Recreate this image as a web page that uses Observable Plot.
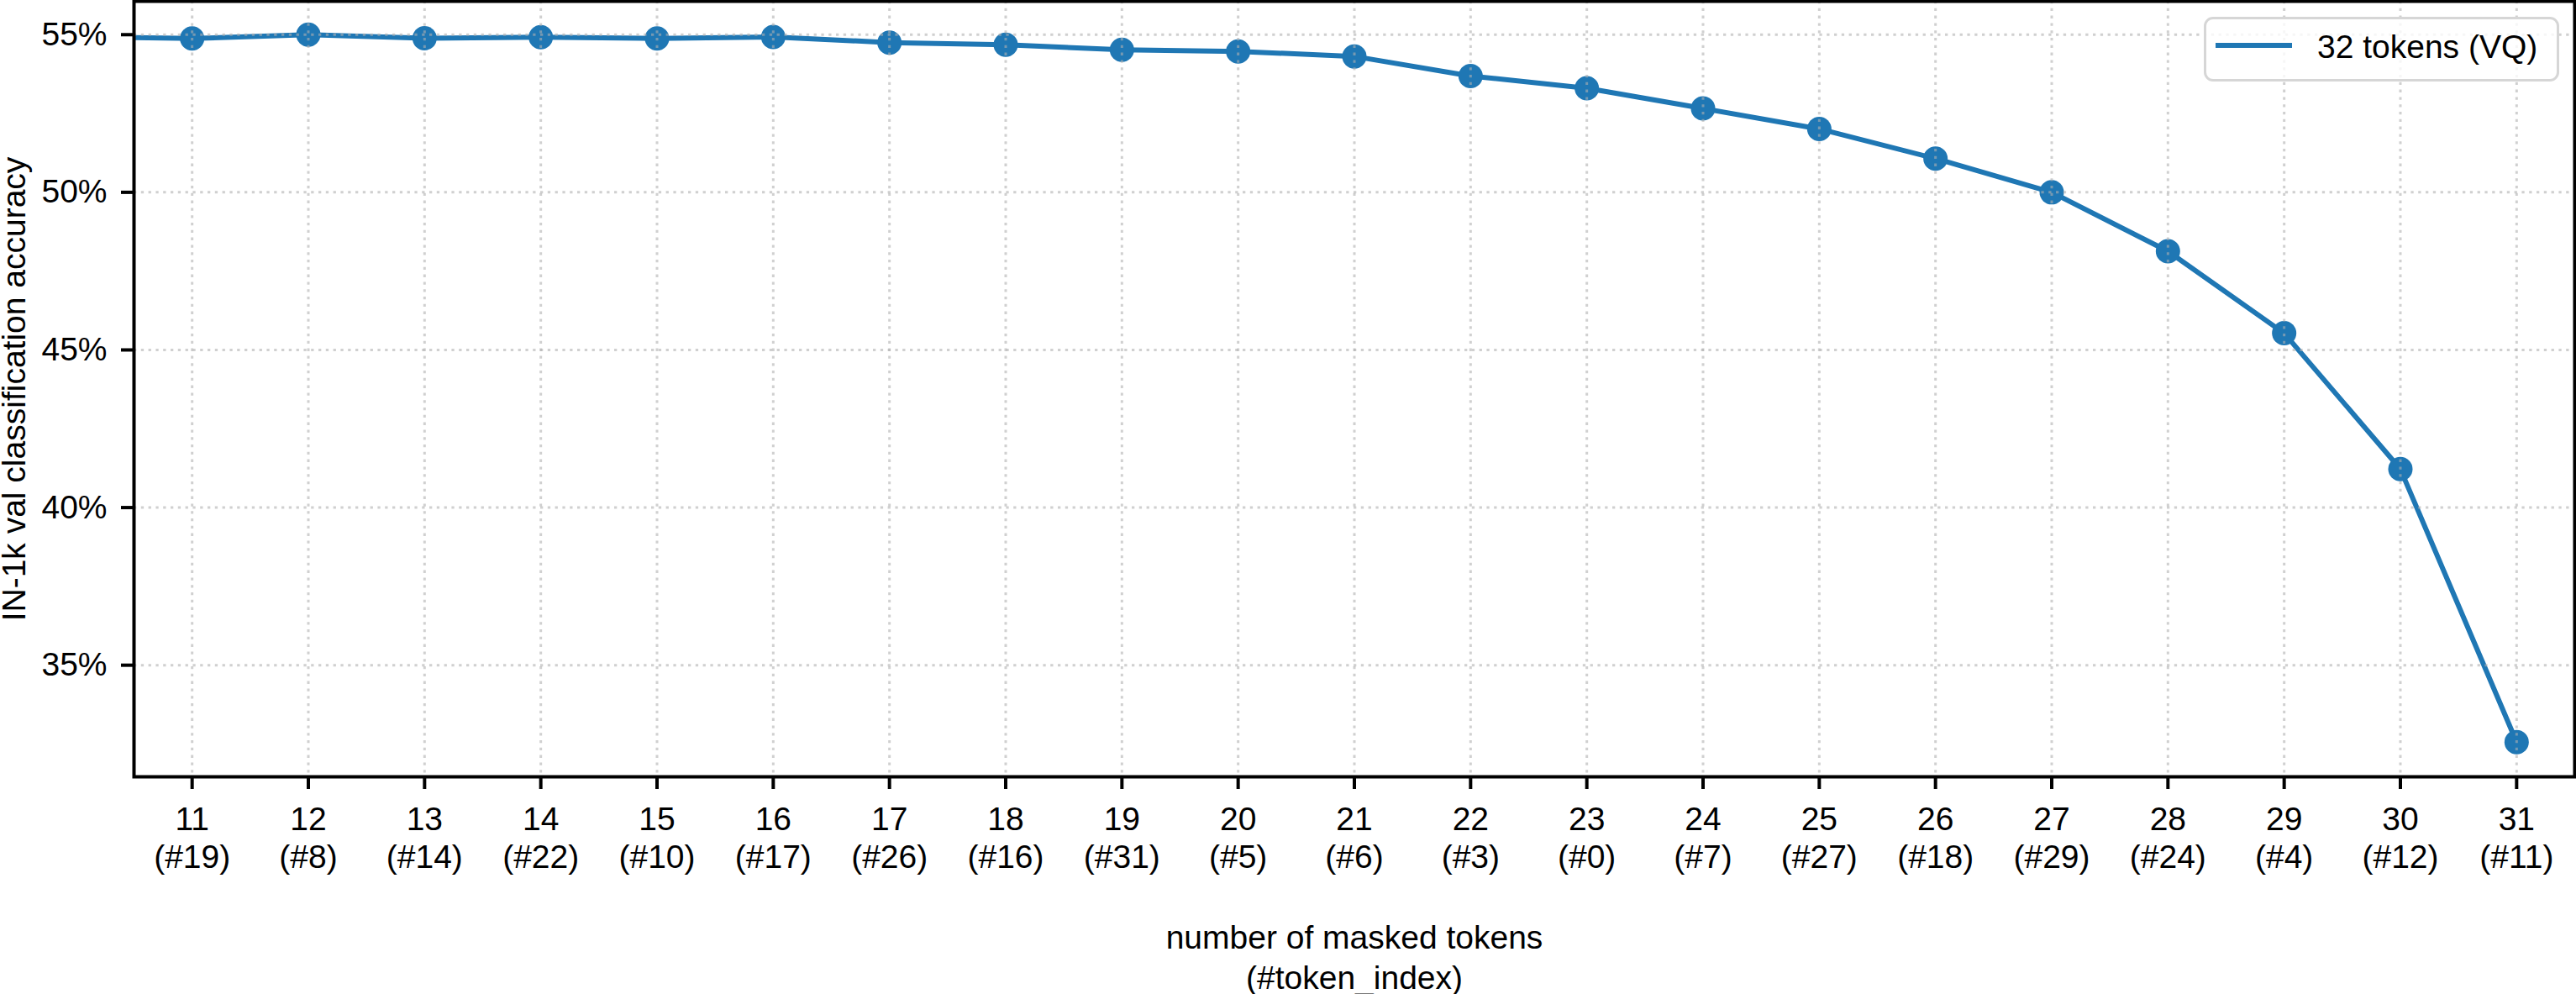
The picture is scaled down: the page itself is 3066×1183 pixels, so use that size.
<!DOCTYPE html>
<html>
<head>
<meta charset="utf-8">
<script src="https://cdn.jsdelivr.net/npm/d3@7"></script>
<script src="https://cdn.jsdelivr.net/npm/@observablehq/plot@0.6"></script>
<style>
  html, body { margin: 0; padding: 0; background: #fff; }
  #wrap { position: relative; width: 3066px; height: 1183px; font-family: 'Liberation Sans', Arial, sans-serif; }
  #chart svg { overflow: visible; }
  #legend { position: absolute; left: 2623px; top: 20px; width: 423px; height: 77px; box-sizing: border-box;
    border: 3px solid #d6d6d6; border-radius: 11px; background: rgba(255,255,255,0.8); }
  #legend .swatch { position: absolute; left: 11px; top: 28px; width: 91px; height: 6px; }
  #legend .lbl { position: absolute; left: 132px; top: 9px; font-size: 39px; line-height: 47px; color: #000; white-space: nowrap; }
</style>
</head>
<body>
<div id="wrap"><div id="chart"></div><div id="legend"></div></div>
<script>
// ---- data ----
const maskedTokens = [10, 11, 12, 13, 14, 15, 16, 17, 18, 19, 20, 21, 22, 23, 24, 25, 26, 27, 28, 29, 30, 31];
const accuracy     = [54.93, 54.88, 55.0, 54.89, 54.92, 54.88, 54.93, 54.75, 54.68, 54.52, 54.47, 54.31,
                      53.69, 53.30, 52.66, 52.01, 51.07, 50.0, 48.13, 45.53, 41.22, 32.56];
const xTicks       = [11, 12, 13, 14, 15, 16, 17, 18, 19, 20, 21, 22, 23, 24, 25, 26, 27, 28, 29, 30, 31];
const tokenIndex   = [19, 8, 14, 22, 10, 17, 26, 16, 31, 5, 6, 3, 0, 7, 27, 18, 29, 24, 4, 12, 11];
const yTicks       = [35, 40, 45, 50, 55];
const seriesName   = "32 tokens (VQ)";
const seriesColor  = "#1f77b4";
const xLabel       = "number of masked tokens\n(#token_index)";
const yLabel       = "IN-1k val classification accuracy";

const data = maskedTokens.map((x, i) => ({x, y: accuracy[i]}));
const idxOf = new Map(xTicks.map((t, i) => [t, tokenIndex[i]]));
function idOf(d) { return idxOf.get(d); }

const gridStyle = {stroke: "#b0b0b0", strokeOpacity: 0.6, strokeWidth: 3, strokeDasharray: "3.3,5.5"};

const chart = Plot.plot({
  width: 3066,
  height: 1183,
  marginLeft: 159,
  marginRight: 2,
  marginTop: 1,
  marginBottom: 259,
  x: {domain: [10.5, 31.5]},
  y: {domain: [31.46, 56.06]},
  style: {fontFamily: "'Liberation Sans', Arial, sans-serif", fontSize: "39px", background: "white", color: "black"},
  marks: [
    Plot.line(data, {x: "x", y: "y", stroke: seriesColor, strokeWidth: 6, clip: true}),
    Plot.dot(data, {x: "x", y: "y", r: 14.5, fill: seriesColor, strokeWidth: 0, clip: true}),
    Plot.gridX(xTicks, gridStyle),
    Plot.gridY(yTicks, gridStyle),
    Plot.axisX(xTicks, {
      tickSize: 15, tickPadding: 17, stroke: "black", strokeWidth: 4,
      tickFormat: d => `${d}\n(#${idOf(d)})`, lineHeight: 1.15, fontSize: 39, label: null
    }),
    Plot.axisY(yTicks, {
      tickSize: 15, tickPadding: 17, stroke: "black", strokeWidth: 4,
      tickFormat: d => `${d}%`, fontSize: 39, label: null
    }),
    Plot.frame({stroke: "black", strokeWidth: 4}),
    Plot.text([xLabel], {text: d => d, frameAnchor: "bottom", textAnchor: "middle", lineAnchor: "top", dy: 171, lineHeight: 1.22, fontSize: 39, fill: "black"}),
    Plot.text([yLabel], {text: d => d, frameAnchor: "left", textAnchor: "middle", lineAnchor: "middle", rotate: -90, dx: -141.5, fontSize: 39, fill: "black"})
  ]
});
document.getElementById("chart").appendChild(chart);

// legend
const legend = document.getElementById("legend");
const sw = document.createElement("div");
sw.className = "swatch";
sw.style.background = seriesColor;
legend.appendChild(sw);
const lb = document.createElement("div");
lb.className = "lbl";
lb.textContent = seriesName;
legend.appendChild(lb);
</script>
</body>
</html>
